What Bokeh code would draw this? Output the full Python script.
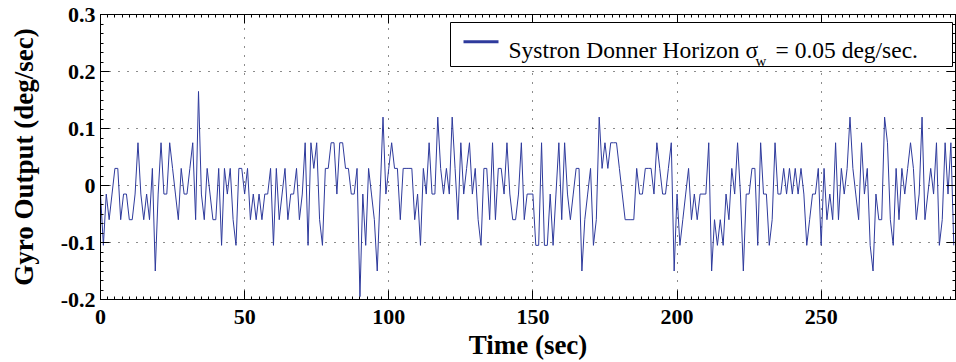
from bokeh.plotting import figure
from bokeh.models import (Range1d, LinearAxis, SingleIntervalTicker, BoxAnnotation,
                          Label, CustomJSTickFormatter, Grid)
from bokeh.embed import file_html
from bokeh.resources import INLINE

# ---- data (one sample per second) ----
gyro_output = [
    -0.015, -0.105, -0.015, -0.06, -0.015, 0.03, 0.03, -0.06, -0.015, -0.015,
    -0.06, -0.06, -0.015, 0.075, -0.015, -0.06, -0.015, -0.06, 0.03, -0.15,
    -0.015, 0.075, -0.015, -0.015, 0.075, 0.03, -0.015, -0.06, 0.03, -0.015,
    -0.015, 0.03, 0.075, -0.06, 0.165, -0.015, -0.06, 0.03, -0.015, -0.06,
    -0.06, 0.03, -0.105, 0.03, -0.015, 0.03, -0.06, -0.105, 0.03, 0.03,
    -0.015, 0.03, -0.06, -0.015, -0.06, -0.015, -0.06, -0.015, -0.015, 0.03,
    -0.105, 0.03, -0.06, -0.015, 0.03, -0.06, -0.015, -0.015, 0.03, -0.06,
    -0.015, 0.075, -0.105, 0.075, 0.03, 0.075, -0.06, -0.105, 0.03, 0.03,
    0.075, 0.075, -0.015, 0.075, 0.075, 0.03, 0.03, -0.015, -0.015, 0.03,
    -0.195, -0.015, -0.105, 0.03, -0.015, -0.06, -0.15, -0.015, 0.12, -0.015,
    0.03, 0.075, 0.03, 0.03, -0.06, 0.03, 0.03, 0.03, 0.03, -0.06,
    -0.015, -0.105, 0.03, -0.015, 0.075, -0.015, -0.015, 0.12, 0.03, -0.015,
    0.03, -0.015, 0.12, 0.03, -0.06, 0.075, -0.015, 0.03, 0.075, -0.015,
    0.03, -0.06, -0.105, 0.03, 0.03, -0.06, 0.075, -0.06, 0.03, 0.03,
    -0.015, 0.075, -0.015, -0.06, -0.06, -0.015, 0.075, -0.06, -0.015, -0.015,
    -0.015, -0.105, -0.105, 0.075, -0.105, -0.105, -0.015, -0.105, -0.015, 0.075,
    -0.06, 0.075, -0.015, -0.06, -0.015, 0.03, 0.03, -0.15, -0.06, -0.015,
    0.03, -0.105, -0.06, 0.12, 0.03, 0.075, 0.03, 0.075, 0.075, 0.075,
    0.03, -0.015, -0.06, -0.06, -0.06, -0.06, 0.03, -0.015, -0.015, 0.03,
    0.03, 0.03, -0.015, 0.075, 0.03, -0.015, -0.015, 0.03, 0.075, -0.15,
    -0.015, -0.105, -0.06, -0.015, 0.03, -0.06, -0.015, -0.06, -0.015, -0.015,
    -0.015, 0.075, -0.15, -0.06, -0.105, -0.06, -0.105, -0.015, -0.06, 0.03,
    -0.015, 0.075, -0.015, -0.15, -0.015, -0.015, 0.03, 0.03, -0.105, 0.075,
    -0.015, -0.015, -0.105, -0.06, 0.075, -0.015, -0.015, 0.03, -0.015, 0.03,
    -0.015, 0.03, -0.015, 0.03, -0.015, -0.105, -0.06, -0.015, -0.015, 0.03,
    -0.105, 0.03, -0.06, -0.015, -0.06, 0.075, -0.06, 0.03, -0.015, 0.03,
    0.12, 0.03, -0.015, -0.06, 0.075, -0.015, 0.03, -0.105, -0.15, -0.015,
    -0.06, -0.06, 0.12, 0.075, -0.06, -0.105, 0.03, -0.06, 0.03, -0.015,
    0.03, 0.075, 0.03, -0.06, -0.015, 0.12, -0.06, -0.015, 0.03, -0.015,
    0.075, -0.105, -0.06, 0.075, -0.015, 0.075, -0.105,
]
time_s = list(range(len(gyro_output)))

x_label = "Time (sec)"
y_label = "Gyro Output (deg/sec)"
legend_main = "Systron Donner Horizon \u03c3"
legend_sub = "w"
legend_rest = "= 0.05 deg/sec."

LINE_COLOR = "#2e3a9c"
FONT = "Liberation Serif"

p = figure(width=956, height=362, output_backend="svg", toolbar_location=None,
           x_range=Range1d(0, 296.6), y_range=Range1d(-0.2, 0.300001),
           x_axis_type=None, y_axis_type=None,
           min_border_left=100, min_border_right=1, min_border_top=14, min_border_bottom=62)
p.outline_line_color = "black"
p.background_fill_color = "white"
p.border_fill_color = "white"

xticker = SingleIntervalTicker(interval=50, num_minor_ticks=20)
yticker = SingleIntervalTicker(interval=0.1, num_minor_ticks=6)


def style(ax):
    ax.axis_line_color = "black"
    ax.axis_line_width = 1
    ax.major_tick_in = 9
    ax.major_tick_out = 0
    ax.minor_tick_in = 3
    ax.minor_tick_out = 0
    ax.major_tick_line_color = "black"
    ax.minor_tick_line_color = "black"
    ax.major_label_text_font = FONT
    ax.major_label_text_font_style = "bold"
    ax.major_label_text_font_size = "22px"
    ax.major_label_text_color = "black"
    ax.axis_label_text_font = FONT
    ax.axis_label_text_font_style = "bold"
    ax.axis_label_text_font_size = "27px"
    ax.axis_label_text_color = "black"


xaxis = LinearAxis(ticker=xticker, axis_label=x_label,
                   major_label_standoff=10, axis_label_standoff=3)
style(xaxis)
yfmt = CustomJSTickFormatter(code="return Math.abs(tick) < 1e-9 ? '0' : tick.toFixed(1);")
yaxis = LinearAxis(ticker=yticker, axis_label=y_label, formatter=yfmt,
                   major_label_standoff=5, axis_label_standoff=19)
style(yaxis)
p.add_layout(xaxis, "below")
p.add_layout(yaxis, "left")

blank = CustomJSTickFormatter(code="return '';")
for side, tk in (("above", xticker), ("right", yticker)):
    ax = LinearAxis(ticker=tk, formatter=blank, major_label_standoff=0)
    style(ax)
    ax.major_label_text_font_size = "1px"
    p.add_layout(ax, side)

for dim, tk in ((0, xticker), (1, yticker)):
    g = Grid(dimension=dim, ticker=tk, grid_line_color="black",
             grid_line_dash="1 8", grid_line_width=1, grid_line_alpha=0.9)
    p.add_layout(g)

p.line(time_s, gyro_output, line_color=LINE_COLOR, line_width=1)

# ---- legend (drawn by hand so the sigma can carry its subscript) ----
p.add_layout(BoxAnnotation(left=350, right=852, top=277, bottom=233,
                           left_units="screen", right_units="screen",
                           top_units="screen", bottom_units="screen",
                           fill_color="white", fill_alpha=1.0,
                           line_color="black", line_width=1, line_alpha=1.0))
p.add_layout(BoxAnnotation(left=363, right=398, top=259.2, bottom=256.2,
                           left_units="screen", right_units="screen",
                           top_units="screen", bottom_units="screen",
                           fill_color=LINE_COLOR, fill_alpha=1.0, line_alpha=0))
p.add_layout(Label(x=408, y=249.3, x_units="screen", y_units="screen",
                   text=legend_main, text_font=FONT, text_font_size="23.5px",
                   text_baseline="alphabetic", text_color="black"))
p.add_layout(Label(x=655, y=238.3, x_units="screen", y_units="screen",
                   text=legend_sub, text_font=FONT, text_font_size="15px",
                   text_baseline="alphabetic", text_color="black"))
p.add_layout(Label(x=675, y=249.3, x_units="screen", y_units="screen",
                   text=legend_rest, text_font=FONT, text_font_size="23.5px",
                   text_baseline="alphabetic", text_color="black"))

open("out.html", "w").write(file_html(p, INLINE))
